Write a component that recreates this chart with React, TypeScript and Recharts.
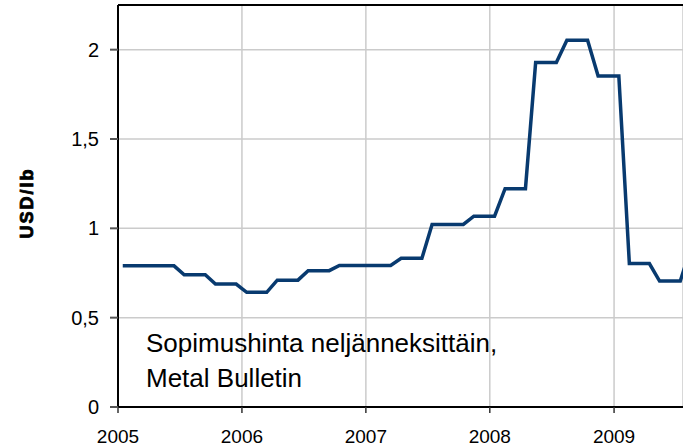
import React from 'react';
import { LineChart, Line, XAxis, YAxis, CartesianGrid, ReferenceLine, Label } from 'recharts';

// Monthly points (quarterly contract price, USD/lb)
const months: string[] = [
  '2005-01', '2005-02', '2005-03', '2005-04', '2005-05', '2005-06',
  '2005-07', '2005-08', '2005-09', '2005-10', '2005-11', '2005-12',
  '2006-01', '2006-02', '2006-03', '2006-04', '2006-05', '2006-06',
  '2006-07', '2006-08', '2006-09', '2006-10', '2006-11', '2006-12',
  '2007-01', '2007-02', '2007-03', '2007-04', '2007-05', '2007-06',
  '2007-07', '2007-08', '2007-09', '2007-10', '2007-11', '2007-12',
  '2008-01', '2008-02', '2008-03', '2008-04', '2008-05', '2008-06',
  '2008-07', '2008-08', '2008-09', '2008-10', '2008-11', '2008-12',
  '2009-01', '2009-02', '2009-03', '2009-04', '2009-05', '2009-06',
  '2009-07', '2009-08',
];

const prices: number[] = [
  0.79, 0.79, 0.79, 0.79, 0.79, 0.79,
  0.74, 0.74, 0.74, 0.688, 0.688, 0.688,
  0.642, 0.642, 0.642, 0.71, 0.71, 0.71,
  0.763, 0.763, 0.763, 0.792, 0.792, 0.792,
  0.792, 0.792, 0.792, 0.832, 0.832, 0.832,
  1.022, 1.022, 1.022, 1.022, 1.068, 1.068,
  1.068, 1.222, 1.222, 1.222, 1.928, 1.928,
  1.928, 2.053, 2.053, 2.053, 1.853, 1.853,
  1.853, 0.803, 0.803, 0.803, 0.705, 0.705,
  0.705, 0.89,
];

const yearTicks: number[] = [2005, 2006, 2007, 2008, 2009];
const valueTicks: number[] = [0, 0.5, 1, 1.5, 2];
const yMax = 2.25;
const xEnd = '2009-07-23';

const annotationLines: string[] = ['Sopimushinta neljänneksittäin,', 'Metal Bulletin'];
const yAxisTitle = 'USD/lb';

const toMidMonth = (ym: string) => {
  const [y, m] = ym.split('-').map(Number);
  return Date.UTC(y, m - 1, 15);
};

const data = months.map((ym, i) => ({ t: toMidMonth(ym), v: prices[i] }));
const xTicks = yearTicks.map((y) => Date.UTC(y, 0, 1));
const xDomain: [number, number] = [Date.UTC(2005, 0, 1), Date.parse(xEnd + 'T00:00:00Z')];

const FONT = '"Liberation Sans", Arial, sans-serif';

export default function App() {
  return (
    <div style={{ position: 'absolute', left: 0, top: 0, width: 683, height: 448, background: '#fff' }}>
      <LineChart
        width={683}
        height={448}
        data={data}
        margin={{ top: 5, right: 0, bottom: 0, left: 0 }}
      >
        <CartesianGrid stroke="#cbcbcb" strokeWidth={1.5} />
        <XAxis
          dataKey="t"
          type="number"
          scale="linear"
          domain={xDomain}
          allowDataOverflow
          ticks={xTicks}
          tickFormatter={(t: number) => String(new Date(t).getUTCFullYear())}
          height={41}
          axisLine={{ stroke: '#000', strokeWidth: 2 }}
          tickLine={{ stroke: '#333', strokeWidth: 1.5 }}
          tickSize={6}
          tickMargin={17}
          tick={{ fill: '#000', fontSize: 19, fontFamily: FONT }}
          interval={0}
        />
        <YAxis
          type="number"
          domain={[0, yMax]}
          allowDataOverflow
          ticks={valueTicks}
          tickFormatter={(v: number) => String(v).replace('.', ',')}
          width={118}
          axisLine={{ stroke: '#000', strokeWidth: 2 }}
          tickLine={{ stroke: '#555', strokeWidth: 2 }}
          tickSize={8}
          tickMargin={11}
          tick={{ fill: '#000', fontSize: 20, fontFamily: FONT }}
          interval={0}
        >
          <Label
            content={() => (
              <text
                x={27}
                y={203}
                transform="rotate(-90 27 203)"
                textAnchor="middle"
                dominantBaseline="central"
                fontSize={18}
                fontWeight="bold"
                letterSpacing={2}
                stroke="#000"
                strokeWidth={0.8}
                fontFamily={FONT}
                fill="#000"
              >
                {yAxisTitle}
              </text>
            )}
          />
        </YAxis>
        <ReferenceLine y={yMax} stroke="#000" strokeWidth={2} />
        <Line
          type="linear"
          dataKey="v"
          stroke="#083a6f"
          strokeWidth={3.5}
          dot={false}
          activeDot={false}
          isAnimationActive={false}
        />
      </LineChart>
      <div
        style={{
          position: 'absolute',
          left: 146,
          top: 326,
          fontFamily: FONT,
          fontSize: 26,
          lineHeight: '35px',
          color: '#000',
          whiteSpace: 'nowrap',
        }}
      >
        {annotationLines.map((l) => (
          <div key={l}>{l}</div>
        ))}
      </div>
    </div>
  );
}
